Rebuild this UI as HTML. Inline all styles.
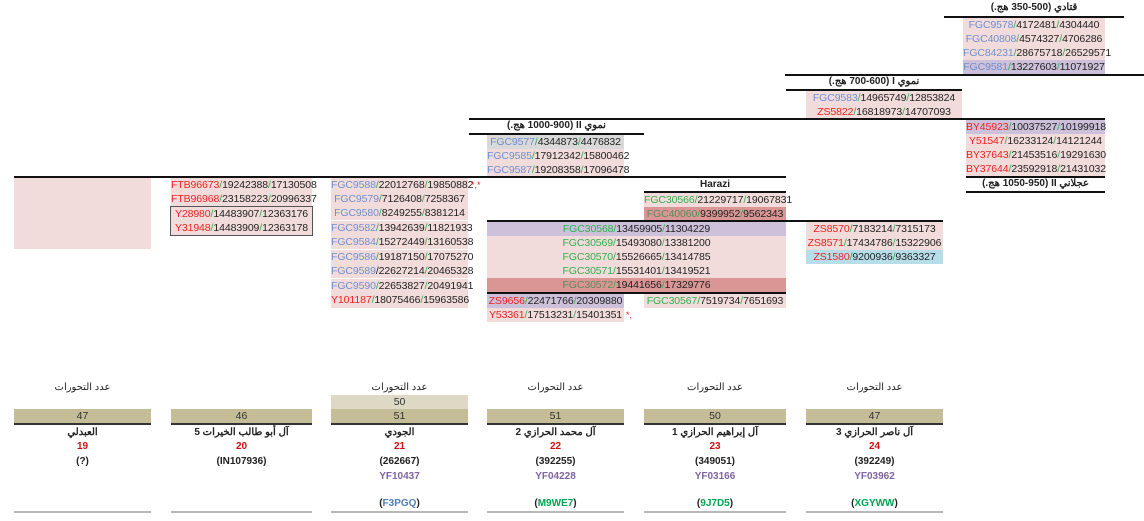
<!DOCTYPE html>
<html><head><meta charset="utf-8">
<style>
body{margin:0;background:#fff;width:1144px;height:521px;overflow:hidden;position:relative;font-family:"Liberation Sans","Noto Sans CJK SC",sans-serif;font-size:10px;color:#222}
.c{position:absolute;height:14px;line-height:14px;text-align:center;white-space:nowrap;font-size:10.5px;letter-spacing:-0.1px}
.p{background:#f2dcdb}.u{background:#ccc0da}.d{background:#da9694}.b{background:#b7dee8}.g{background:#d9d9d9}
.l{position:absolute;height:2px;background:#111}
.t{position:absolute;text-align:center;font-weight:bold;font-size:10px;line-height:14px;white-space:nowrap}
.B{color:#6f8fcf}.R{color:#f02020}.G{color:#2fb04a}.s{color:#2fb04a}
.k{position:absolute;text-align:center;line-height:14px;white-space:nowrap}
.bar{position:absolute;height:14px;line-height:14px;text-align:center;background:#c4bd97;border-bottom:2px solid #333;color:#333;font-size:10.5px}
.gl{position:absolute;height:2px;background:#b8b8b8}
</style></head><body>
<!-- Qatadi -->
<div class="t" style="left:944px;width:180px;top:1px" dir="rtl">قتادي (500-350 هج.)</div>
<div class="l" style="left:944px;width:180px;top:16px"></div>
<div class="c p" style="left:963px;width:142px;top:18px"><span class="B">FGC9578</span><span class="s">/</span>4172481<span class="s">/</span>4304440</div>
<div class="c p" style="left:963px;width:142px;top:32px"><span class="B">FGC40808</span><span class="s">/</span>4574327<span class="s">/</span>4706286</div>
<div class="c p" style="left:963px;width:142px;top:46px"><span class="B">FGC84231</span><span class="s">/</span>28675718<span class="s">/</span>26529571</div>
<div class="c u" style="left:963px;width:142px;top:60px"><span class="B">FGC9581</span><span class="s">/</span>13227603<span class="s">/</span>11071927</div>
<div class="l" style="left:785px;width:359px;top:74px"></div>
<!-- Nimawi I -->
<div class="t" style="left:786px;width:176px;top:75px" dir="rtl">نموي I (700-600 هج.)</div>
<div class="l" style="left:786px;width:176px;top:89px"></div>
<div class="c p" style="left:806px;width:156px;top:91px"><span class="B">FGC9583</span><span class="s">/</span>14965749<span class="s">/</span>12853824</div>
<div class="c p" style="left:806px;width:156px;top:105px"><span class="R">ZS5822</span><span class="s">/</span>16818973<span class="s">/</span>14707093</div>
<div class="l" style="left:469px;width:636px;top:118px"></div>
<!-- Ajlani II -->
<div class="c u" style="left:966px;width:139px;top:120px"><span class="R">BY45923</span><span class="s">/</span>10037527<span class="s">/</span>10199918</div>
<div class="c p" style="left:966px;width:139px;top:134px"><span class="R">Y51547</span><span class="s">/</span>16233124<span class="s">/</span>14121244</div>
<div class="c p" style="left:966px;width:139px;top:148px"><span class="R">BY37643</span><span class="s">/</span>21453516<span class="s">/</span>19291630</div>
<div class="c p" style="left:966px;width:139px;top:162px"><span class="R">BY37644</span><span class="s">/</span>23592918<span class="s">/</span>21431032</div>
<div class="l" style="left:966px;width:139px;top:176px"></div>
<div class="t" style="left:966px;width:139px;top:177px" dir="rtl">عجلاني II (1050-950 هج.)</div>
<div class="l" style="left:966px;width:139px;top:191px"></div>
<!-- Nimawi II -->
<div class="t" style="left:469px;width:175px;top:119px" dir="rtl">نموي II (1000-900 هج.)</div>
<div class="l" style="left:469px;width:175px;top:133px"></div>
<div class="c g" style="left:487px;width:137px;top:135px"><span class="B">FGC9577</span><span class="s">/</span>4344873<span class="s">/</span>4476832</div>
<div class="c p" style="left:487px;width:137px;top:149px"><span class="B">FGC9585</span><span class="s">/</span>17912342<span class="s">/</span>15800462</div>
<div class="c p" style="left:487px;width:137px;top:163px"><span class="B">FGC9587</span><span class="s">/</span>19208358<span class="s">/</span>17096478</div>
<div class="l" style="left:14px;width:772px;top:176px"></div>
<!-- Harazi -->
<div class="t" style="left:644px;width:142px;top:178px">Harazi</div>
<div class="l" style="left:644px;width:142px;top:191px"></div>
<div class="c p" style="left:644px;width:142px;top:193px"><span class="G">FGC30566</span><span class="s">/</span>21229717<span class="s">/</span>19067831</div>
<div class="c d" style="left:644px;width:142px;top:207px"><span style="color:#5a8a5a">FGC40060</span><span class="s">/</span>9399952<span class="s">/</span>9562343</div>
<div class="l" style="left:487px;width:456px;top:220px"></div>
<div class="c u" style="left:487px;width:299px;top:222px"><span class="G">FGC30568</span><span class="s">/</span>13459905<span class="s">/</span>11304229</div>
<div class="c p" style="left:487px;width:299px;top:236px"><span class="G">FGC30569</span><span class="s">/</span>15493080<span class="s">/</span>13381200</div>
<div class="c p" style="left:487px;width:299px;top:250px"><span class="G">FGC30570</span><span class="s">/</span>15526665<span class="s">/</span>13414785</div>
<div class="c p" style="left:487px;width:299px;top:264px"><span class="G">FGC30571</span><span class="s">/</span>15531401<span class="s">/</span>13419521</div>
<div class="c d" style="left:487px;width:299px;top:278px"><span style="color:#5a8a5a">FGC30572</span><span class="s">/</span>19441656<span class="s">/</span>17329776</div>
<div class="l" style="left:487px;width:299px;top:292px"></div>
<div class="c u" style="left:487px;width:137px;top:294px"><span class="R">ZS9656</span><span class="s">/</span>22471766<span class="s">/</span>20309880</div>
<div class="c p" style="left:644px;width:142px;top:294px"><span class="G">FGC30567</span><span class="s">/</span>7519734<span class="s">/</span>7651693</div>
<div class="c p" style="left:487px;width:137px;top:308px"><span class="R">Y53361</span><span class="s">/</span>17513231<span class="s">/</span>15401351</div>
<div class="k R" style="left:626px;top:308px;font-size:9px">*,</div>
<!-- ZS8570 -->
<div class="c p" style="left:806px;width:137px;top:222px"><span class="R">ZS8570</span><span class="s">/</span>7183214<span class="s">/</span>7315173</div>
<div class="c p" style="left:806px;width:137px;top:236px"><span class="R">ZS8571</span><span class="s">/</span>17434786<span class="s">/</span>15322906</div>
<div class="c b" style="left:806px;width:137px;top:250px"><span class="R">ZS1580</span><span class="s">/</span>9200936<span class="s">/</span>9363327</div>
<!-- left block -->
<div class="p" style="position:absolute;left:14px;top:178px;width:137px;height:71px"></div>
<div class="c p" style="left:171px;width:141px;top:178px"><span class="R">FTB96673</span><span class="s">/</span>19242388<span class="s">/</span>17130508</div>
<div class="c p" style="left:171px;width:141px;top:192px"><span class="R">FTB96968</span><span class="s">/</span>23158223<span class="s">/</span>20996337</div>
<div style="position:absolute;left:170px;top:206px;width:141px;height:28px;border:1px solid #555;background:#f2dcdb"></div>
<div class="c" style="left:171px;width:141px;top:207px"><span class="R">Y28980</span><span class="s">/</span>14483907<span class="s">/</span>12363176</div>
<div class="c" style="left:171px;width:141px;top:221px"><span class="R">Y31948</span><span class="s">/</span>14483909<span class="s">/</span>12363178</div>
<!-- col3 -->
<div class="c p" style="left:331px;width:137px;top:178px"><span class="B">FGC9588</span><span class="s">/</span>22012768<span class="s">/</span>19850882</div>
<div class="c p" style="left:331px;width:137px;top:192px"><span class="B">FGC9579</span><span class="s">/</span>7126408<span class="s">/</span>7258367</div>
<div class="c p" style="left:331px;width:137px;top:206px"><span class="B">FGC9580</span><span class="s">/</span>8249255<span class="s">/</span>8381214</div>
<div class="c p" style="left:331px;width:137px;top:221px"><span class="B">FGC9582</span><span class="s">/</span>13942639<span class="s">/</span>11821933</div>
<div class="c p" style="left:331px;width:137px;top:235px"><span class="B">FGC9584</span><span class="s">/</span>15272449<span class="s">/</span>13160538</div>
<div class="c p" style="left:331px;width:137px;top:250px"><span class="B">FGC9586</span><span class="s">/</span>19187150<span class="s">/</span>17075270</div>
<div class="c p" style="left:331px;width:137px;top:264px"><span class="B">FGC9589</span>/22627214<span class="s">/</span>20465328</div>
<div class="c p" style="left:331px;width:137px;top:279px"><span class="B">FGC9590</span><span class="s">/</span>22653827<span class="s">/</span>20491941</div>
<div class="c p" style="left:331px;width:137px;top:293px;height:15px"><span class="R">Y101187</span><span class="s">/</span>18075466<span class="s">/</span>15963586</div>
<div class="k R" style="left:471px;top:178px;font-size:9px">*,*</div>
<!-- bottom -->
<div class="k" style="left:14px;width:137px;top:381px">عدد التحورات</div>
<div class="k" style="left:331px;width:137px;top:381px">عدد التحورات</div>
<div class="k" style="left:487px;width:137px;top:381px">عدد التحورات</div>
<div class="k" style="left:644px;width:142px;top:381px">عدد التحورات</div>
<div class="k" style="left:806px;width:137px;top:381px">عدد التحورات</div>
<div class="c" style="left:331px;width:137px;top:395px;background:#ddd9c4;color:#333">50</div>
<div class="bar" style="left:14px;width:137px;top:409px">47</div>
<div class="bar" style="left:171px;width:141px;top:409px">46</div>
<div class="bar" style="left:331px;width:137px;top:409px">51</div>
<div class="bar" style="left:487px;width:137px;top:409px">51</div>
<div class="bar" style="left:644px;width:142px;top:409px">50</div>
<div class="bar" style="left:806px;width:137px;top:409px">47</div>

<div class="t" style="left:14px;width:137px;top:426px">العبدلي</div>
<div class="t" style="left:171px;width:141px;top:426px" dir="rtl">آل أبو طالب الخيرات 5</div>
<div class="t" style="left:331px;width:137px;top:426px">الجودي</div>
<div class="t" style="left:487px;width:137px;top:426px" dir="rtl">آل محمد الحرازي 2</div>
<div class="t" style="left:644px;width:142px;top:426px" dir="rtl">آل إبراهيم الحرازي 1</div>
<div class="t" style="left:806px;width:137px;top:426px" dir="rtl">آل ناصر الحرازي 3</div>

<div class="t" style="left:14px;width:137px;top:440px;color:#d01010">19</div>
<div class="t" style="left:171px;width:141px;top:440px;color:#d01010">20</div>
<div class="t" style="left:331px;width:137px;top:440px;color:#d01010">21</div>
<div class="t" style="left:487px;width:137px;top:440px;color:#d01010">22</div>
<div class="t" style="left:644px;width:142px;top:440px;color:#d01010">23</div>
<div class="t" style="left:806px;width:137px;top:440px;color:#d01010">24</div>

<div class="t" style="left:14px;width:137px;top:455px">(?)</div>
<div class="t" style="left:171px;width:141px;top:455px">(IN107936)</div>
<div class="t" style="left:331px;width:137px;top:455px">(262667)</div>
<div class="t" style="left:487px;width:137px;top:455px">(392255)</div>
<div class="t" style="left:644px;width:142px;top:455px">(349051)</div>
<div class="t" style="left:806px;width:137px;top:455px">(392249)</div>

<div class="t" style="left:331px;width:137px;top:470px;color:#8064a2">YF10437</div>
<div class="t" style="left:487px;width:137px;top:470px;color:#8064a2">YF04228</div>
<div class="t" style="left:644px;width:142px;top:470px;color:#8064a2">YF03166</div>
<div class="t" style="left:806px;width:137px;top:470px;color:#8064a2">YF03962</div>

<div class="t" style="left:331px;width:137px;top:497px">(<span style="color:#4f81bd">F3PGQ</span>)</div>
<div class="t" style="left:487px;width:137px;top:497px">(<span style="color:#00a550">M9WE7</span>)</div>
<div class="t" style="left:644px;width:142px;top:497px">(<span style="color:#00a550">9J7D5</span>)</div>
<div class="t" style="left:806px;width:137px;top:497px">(<span style="color:#00a550">XGYWW</span>)</div>

<div class="gl" style="left:14px;width:137px;top:511px"></div>
<div class="gl" style="left:171px;width:141px;top:511px"></div>
<div class="gl" style="left:331px;width:137px;top:511px"></div>
<div class="gl" style="left:487px;width:137px;top:511px"></div>
<div class="gl" style="left:644px;width:142px;top:511px"></div>
<div class="gl" style="left:806px;width:137px;top:511px"></div>
</body></html>
